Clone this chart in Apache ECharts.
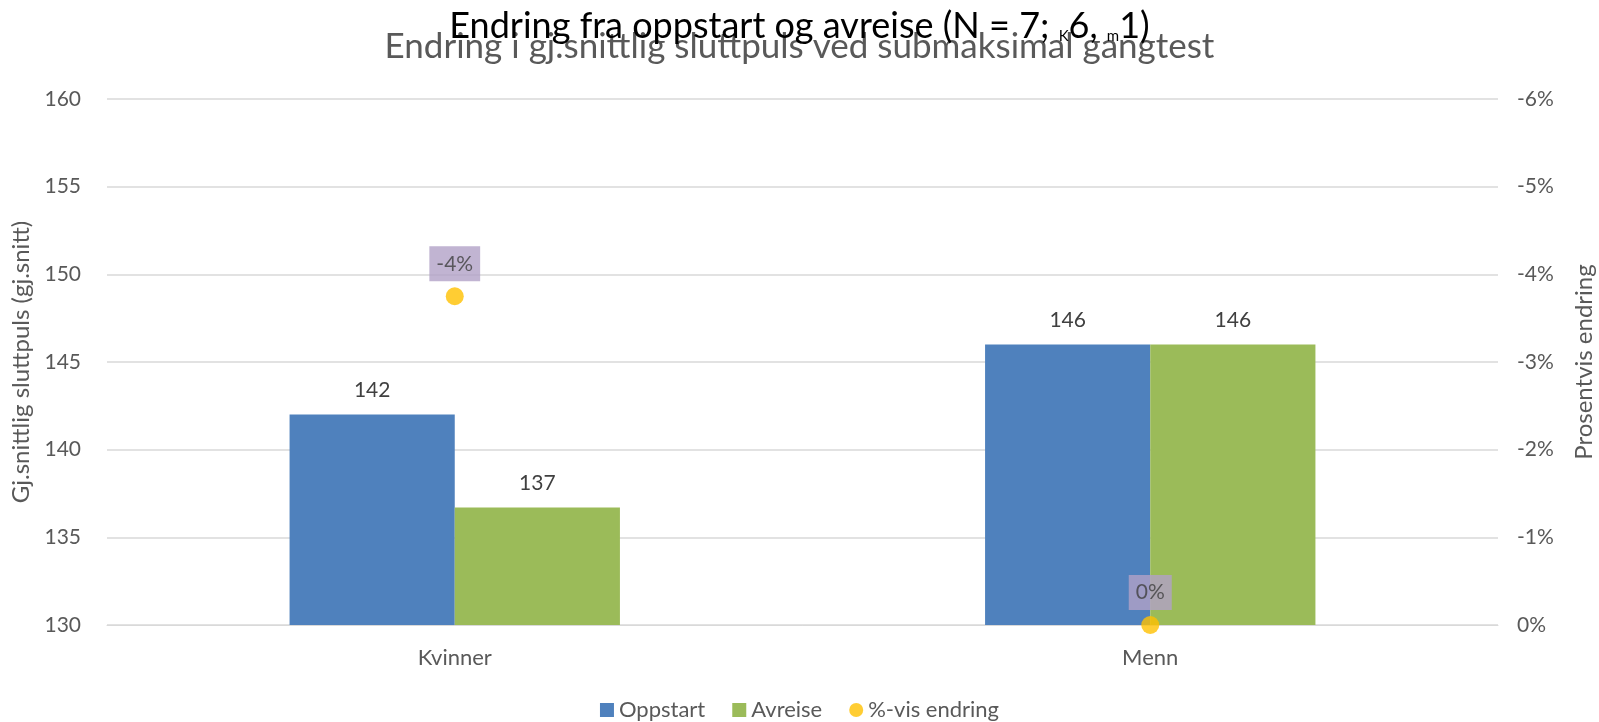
<!DOCTYPE html>
<html>
<head>
<meta charset="utf-8">
<script src="https://cdn.jsdelivr.net/npm/echarts@6/dist/echarts.min.js"></script>
<style>
  html, body { margin: 0; padding: 0; background: #fff; }
  #chart { width: 1599px; height: 722px; }
</style>
</head>
<body>
<div id="chart"></div>
<script>
  var categories = ['Kvinner', 'Menn'];
  var oppstart = [142, 146];
  var avreise = [136.7, 146];
  var pctChange = [-3.75, 0];   // prosent
  var leftTicks = { min: 130, max: 160, step: 5 };
  var rightTicks = { min: -6, max: 0, step: 1 };

  var FONT = 'Lato';
  var grey = '#595959';

  var myChart = echarts.init(document.getElementById('chart'));

  var option = {
    textStyle: { fontFamily: FONT },
    animation: false,
    title: [
      {
        text: 'Endring i gj.snittlig sluttpuls ved submaksimal gangtest',
        left: 'center',
        top: 24,
        textStyle: { fontFamily: FONT, fontSize: 35, fontWeight: 'normal', color: '#595959' }
      },
      {
        text: '{a|Endring fra oppstart og avreise (N = 7; }{s|K}{a|6, }{s|m}{a|1)}',
        left: 'center',
        top: 3,
        textStyle: {
          fontWeight: 'normal',
          rich: {
            a: { fontFamily: FONT, fontSize: 36, fontWeight: 'normal', color: '#000' },
            s: { fontFamily: FONT, fontSize: 15, fontWeight: 'normal', color: '#000', padding: [20, 0, 0, 0] }
          }
        }
      }
    ],
    legend: {
      bottom: -4,
      left: 'center',
      itemWidth: 14,
      itemHeight: 14,
      itemGap: 27,
      textStyle: { fontFamily: FONT, fontSize: 22, color: grey },
      data: [
        { name: 'Oppstart', icon: 'rect' },
        { name: 'Avreise', icon: 'rect' },
        { name: '%-vis endring', icon: 'circle' }
      ]
    },
    grid: { left: 107, right: 101, top: 99, bottom: 97, outerBoundsMode: 'none', containLabel: false },
    xAxis: {
      type: 'category',
      data: categories,
      axisLine: { lineStyle: { color: '#D9D9D9' } },
      axisTick: { show: false },
      axisLabel: { fontSize: 22, color: grey, margin: 22 }
    },
    yAxis: [
      {
        type: 'value',
        min: leftTicks.min,
        max: leftTicks.max,
        interval: leftTicks.step,
        name: 'Gj.snittlig sluttpuls (gj.snitt)',
        nameLocation: 'middle',
        nameGap: 74,
        nameTextStyle: { fontSize: 24, color: grey },
        axisLine: { show: false },
        axisTick: { show: false },
        axisLabel: { fontSize: 21, color: grey, margin: 26 },
        splitLine: { lineStyle: { color: '#D9D9D9', width: 1.5 } }
      },
      {
        type: 'value',
        min: rightTicks.min,
        max: rightTicks.max,
        interval: rightTicks.step,
        inverse: true,
        name: 'Prosentvis endring',
        nameLocation: 'middle',
        nameGap: 74,
        nameRotate: 90,
        nameTextStyle: { fontSize: 24, color: grey },
        axisLine: { show: false },
        axisTick: { show: false },
        axisLabel: { fontSize: 21, color: grey, margin: 19, formatter: '{value}%' },
        splitLine: { show: false }
      }
    ],
    series: [
      {
        name: 'Oppstart',
        type: 'bar',
        data: oppstart,
        barGap: '0%',
        barCategoryGap: '52.5%',
        itemStyle: { color: '#4F81BD' },
        label: {
          show: true, position: 'top', distance: 14,
          fontSize: 21, color: '#404040',
          formatter: function (p) { return Math.round(p.value); }
        }
      },
      {
        name: 'Avreise',
        type: 'bar',
        data: avreise,
        itemStyle: { color: '#9BBB59' },
        label: {
          show: true, position: 'top', distance: 14,
          fontSize: 21, color: '#404040',
          formatter: function (p) { return Math.round(p.value); }
        }
      },
      {
        name: '%-vis endring',
        type: 'scatter',
        yAxisIndex: 1,
        data: pctChange,
        symbol: 'circle',
        symbolSize: 18,
        clip: false,
        z: 5,
        itemStyle: { color: '#FFC000' },
        label: {
          show: true, position: 'top', distance: 6,
          fontSize: 21, color: '#404040',
          backgroundColor: '#B2A1C7',
          padding: [7, 7, 7, 7],
          formatter: function (p) { return Math.round(p.value) + '%'; }
        }
      }
    ]
  };

  myChart.setOption(option);
</script>
</body>
</html>
